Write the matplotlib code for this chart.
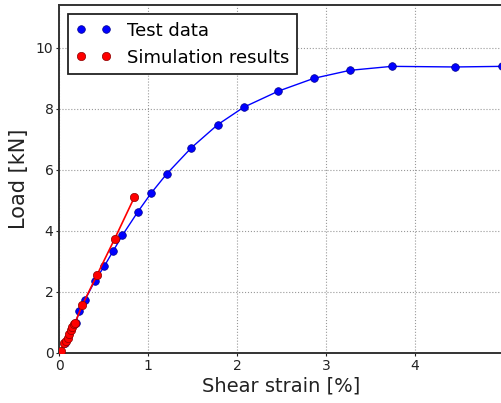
import matplotlib
matplotlib.use("Agg")
import matplotlib.pyplot as plt

test_x = [0.068, 0.188, 0.229, 0.293, 0.402, 0.510, 0.608, 0.713, 0.887, 1.036,
          1.208, 1.486, 1.783, 2.075, 2.466, 2.866, 3.269, 3.739, 4.452, 4.977]
test_y = [0.33, 0.98, 1.38, 1.74, 2.36, 2.85, 3.34, 3.86, 4.63, 5.24,
          5.86, 6.72, 7.48, 8.05, 8.58, 9.00, 9.26, 9.39, 9.37, 9.39]

sim_x = [0.019, 0.056, 0.079, 0.098, 0.113, 0.135, 0.150, 0.166, 0.177,
         0.262, 0.428, 0.627, 0.848]
sim_y = [0.075, 0.32, 0.40, 0.50, 0.62, 0.74, 0.86, 0.94, 0.97,
         1.57, 2.56, 3.75, 5.11]

x_ticks = [0, 1, 2, 3, 4, 5]
y_ticks = [0, 2, 4, 6, 8, 10]

fig = plt.figure(figsize=(5.01, 4.03), dpi=100)
ax = fig.add_axes([59/501, 50/403, 1.006 - 59/501, (353-5)/403])

ax.plot(test_x, test_y, '-', color='#0000ff', lw=1.0, zorder=2)
ax.plot(test_x, test_y, 'o', color='#0000ff', ms=5.5, mec='#00008b', mew=0.5,
        label='Test data', zorder=3)
ax.plot(sim_x, sim_y, '-', color='#ff0000', lw=1.2, zorder=4)
ax.plot(sim_x, sim_y, 'o', color='#ff0000', ms=6, mec='#8b0000', mew=0.5,
        label='Simulation results', zorder=5)

ax.set_xlim(0, 5.0)
ax.set_ylim(0, 11.4)
ax.set_xticks(x_ticks)
ax.set_yticks(y_ticks)
ax.grid(True, linestyle=':', color='#999999', linewidth=0.8)
ax.tick_params(direction='out', labelsize=10, length=2, pad=2,
               colors='#222222', labelcolor='#222222')
for s in ax.spines.values():
    s.set_linewidth(1.4)
    s.set_color('#333333')

ax.set_xlabel('Shear strain [%]', fontsize=14, color='#222222', labelpad=3)
ax.set_ylabel('Load [kN]', fontsize=15, color='#222222', labelpad=5)

leg = ax.legend(loc='upper left', numpoints=2, fontsize=13, fancybox=False,
                framealpha=1, edgecolor='#222222', borderaxespad=0.5,
                handletextpad=0.85, borderpad=0.42, labelspacing=0.5,
                handlelength=2.0)
leg.get_frame().set_linewidth(1.3)

fig.savefig('out.png', dpi=100)
